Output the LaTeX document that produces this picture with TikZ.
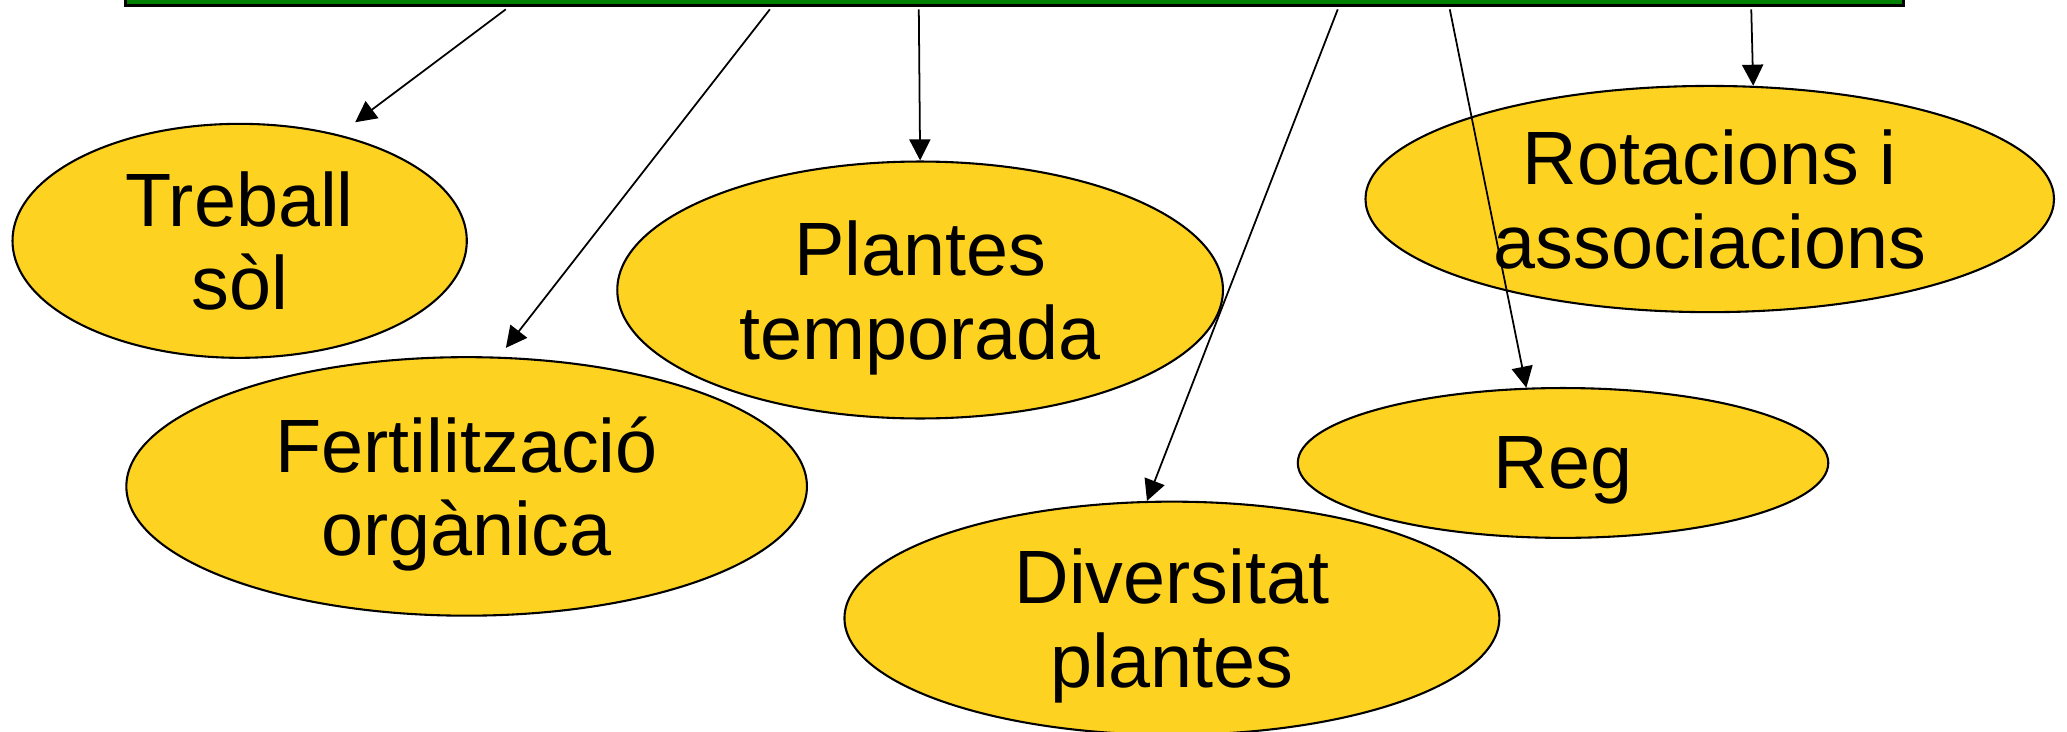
\documentclass[tikz,border=0pt]{standalone}
\usepackage{fontspec}
\setmainfont{Liberation Sans}
\usetikzlibrary{shapes.geometric,arrows.meta}
\definecolor{ovalyellow}{RGB}{254,210,33}
\definecolor{bargreen}{RGB}{0,128,0}
\tikzset{
  oval/.style={ellipse, draw=black, line width=0.45pt, fill=ovalyellow, inner sep=0pt,
    align=center, text depth=0pt,
    font=\fontsize{16.3pt}{18pt}\selectfont},
  topbar/.style={rectangle, draw=black, line width=0.7pt, fill=bargreen, inner sep=0pt},
  arr/.style={line width=0.38pt, -{Triangle[length=0.16cm, width=0.16cm]}}
}
\begin{document}
\begin{tikzpicture}[x=0.01cm, y=-0.01cm]
\useasboundingbox (0,0) rectangle (1568,555);
% top bar
\node[topbar, minimum width=13.479cm, minimum height=0.24cm] (bar) at (769.75,-8) {};
% ovals
\node[oval, minimum width=3.444cm, minimum height=1.774cm] (treball) at (181.8,182.7) {Treball\\sòl};
\node[oval, minimum width=5.16cm, minimum height=1.96cm] (fert) at (354,369) {Fertilització\\orgànica};
\node[oval, minimum width=4.592cm, minimum height=1.948cm] (plantes) at (698,220) {Plantes\\temporada};
\node[oval, minimum width=4.965cm, minimum height=1.768cm] (divers) at (889,469) {Diversitat\\plantes};
\node[oval, minimum width=5.22cm, minimum height=1.715cm] (rotac) at (1297,151) {Rotacions i\\associacions};
\node[oval, minimum width=4.022cm, minimum height=1.136cm] (reg) at (1185.7,351.2) {Reg};
% arrow start points under the bar
\coordinate (s1) at (383.7,7.1);
\coordinate (s2) at (584,7.1);
\coordinate (s3) at (697,7.1);
\coordinate (s4) at (1014.8,7.1);
\coordinate (s5) at (1099.8,7.1);
\coordinate (s6) at (1328.5,7.1);
% connectors
\draw[arr, shorten >=0.155cm] (s1) -- (treball.47.9);
\draw[arr, shorten >=0.085cm] (s2) -- (fert.76.7);
\draw[arr] (s3) -- (plantes.north);
\draw[arr] (s4) -- (divers.102.4);
\draw[arr] (s5) -- (reg.116.7);
\draw[arr] (s6) -- (rotac.69.4);
\end{tikzpicture}
\end{document}
